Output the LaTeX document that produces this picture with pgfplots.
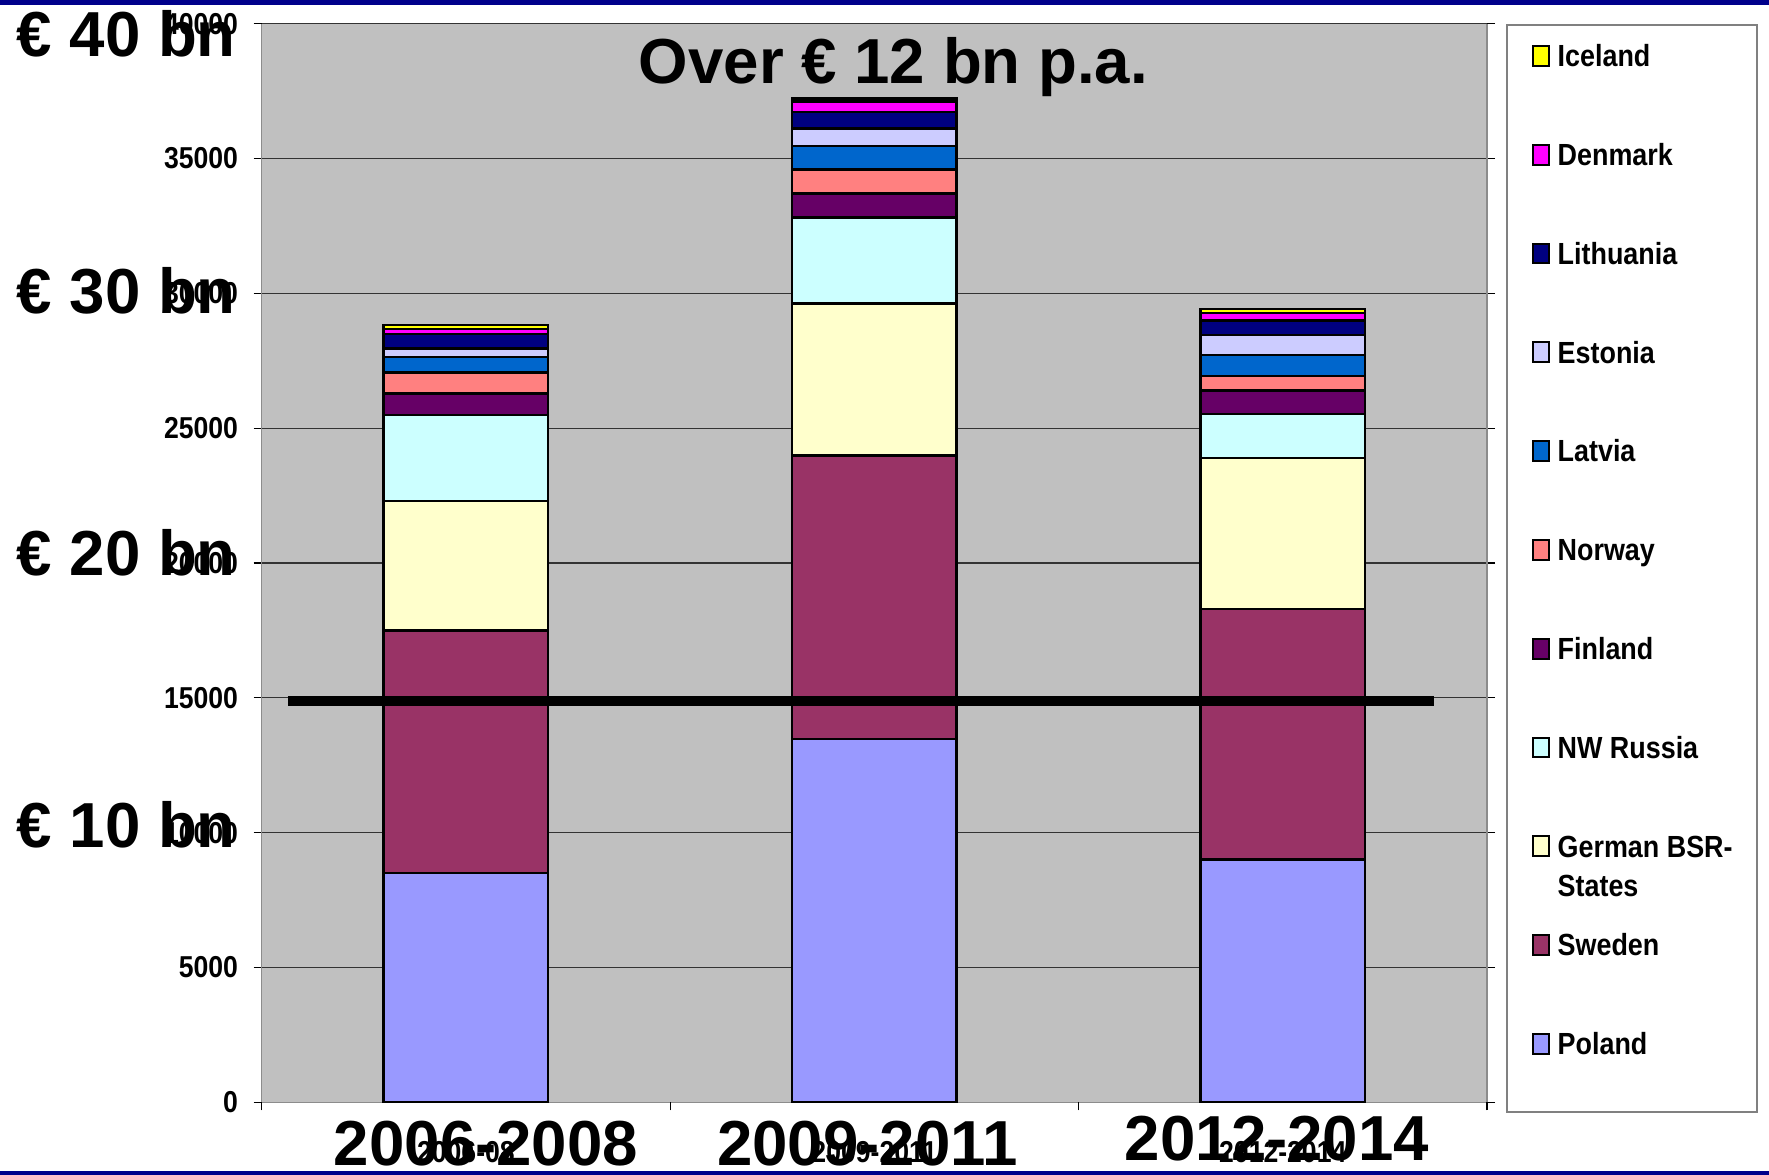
\documentclass[border=0pt]{standalone}
\usepackage{fontspec}
\setmainfont{Liberation Sans}
\newfontfamily\narrowbold{Liberation Sans}[FakeStretch=0.88, UprightFont={* Bold}]
\usepackage{pgfplots}
\pgfplotsset{compat=1.18}
\definecolor{bgray}{HTML}{C0C0C0}
\definecolor{cpoland}{HTML}{9999FF}
\definecolor{csweden}{HTML}{993366}
\definecolor{cgerman}{HTML}{FFFFCC}
\definecolor{cnwrussia}{HTML}{CCFFFF}
\definecolor{cfinland}{HTML}{660066}
\definecolor{cnorway}{HTML}{FF8080}
\definecolor{clatvia}{HTML}{0066CC}
\definecolor{cestonia}{HTML}{CCCCFF}
\definecolor{clithuania}{HTML}{000080}
\definecolor{cdenmark}{HTML}{FF00FF}
\definecolor{ciceland}{HTML}{FFFF00}
\definecolor{navyband}{HTML}{00008B}
\newcommand{\tickfont}{\fontsize{8.6}{10}\narrowbold}
\newcommand{\legfont}{\fontsize{8.7}{10.3}\narrowbold}
\newcommand{\bigfont}{\fontsize{18.1}{21}\selectfont\bfseries}
\begin{document}
\begin{tikzpicture}
\useasboundingbox (0,0) rectangle (176.9mm,117.5mm);
\fill[white] (0,0) rectangle (176.9mm,117.5mm);
\fill[navyband] (0,117.0mm) rectangle (176.9mm,117.5mm);
\fill[navyband] (0,0) rectangle (176.9mm,0.35mm);
\draw[draw=gray, line width=0.2mm, fill=white] (150.7mm,6.3mm) rectangle (175.7mm,115.0mm);
\begin{axis}[
  at={(26.17mm,7.27mm)}, anchor=south west,
  scale only axis, width=122.53mm, height=107.86mm,
  ybar stacked, bar width=0.403,
  xmin=-0.5, xmax=2.5, ymin=0, ymax=40000,
  xtick={0,1,2}, xticklabels={2006-08,2009-2011,2012-2014},
  xtick style={draw=none},
  extra x ticks={-0.5,0.5,1.5,2.5}, extra x tick labels={},
  extra x tick style={grid=none, xtick style={draw=black, line width=0.35pt}},
  ytick={0,5000,...,40000},
  scaled y ticks=false,
  ytick style={draw=black, line width=0.35pt},
  tick align=outside, major tick length=0.8mm,
  ymajorgrids, grid style={black!80, line width=0.3pt},
  axis background/.style={fill=bgray},
  axis line style={draw=gray!90, line width=0.4pt},
  axis x line*=bottom,
  /pgf/number format/assume math mode=true,
  /pgf/number format/1000 sep={},
  ticklabel style={font=\tickfont},
  yticklabel style={anchor=east, inner sep=0pt, xshift=-1.5mm},
  xticklabel style={anchor=base, inner sep=0pt, yshift=-5.2mm},
  every axis plot/.append style={draw=black, line width=0.25mm},
  reverse legend,
  legend cell align=left,
  legend style={at={(axis description cs:1.0359,0.9809)}, anchor=north west,
    draw=none, fill=none, inner sep=0pt, row sep=7.71mm, column sep=0.8mm,
    font=\legfont,
    nodes={inner sep=0pt, anchor=base west, text height=2.17mm, text depth=0pt}},
  legend image code/.code={\draw[#1, line width=0.2mm, draw=black] (0.1mm,0.1mm) rectangle (1.7mm,2.07mm);},
]
\addplot[fill=cpoland] coordinates {(0,8500) (1,13470) (2,9000)};
\addlegendentry{Poland}
\addplot[fill=csweden] coordinates {(0,9000) (1,10510) (2,9290)};
\addlegendentry{Sweden}
\addplot[fill=cgerman] coordinates {(0,4800) (1,5640) (2,5600)};
\addlegendentry{\smash{\begin{tabular}[t]{@{}l@{}}German BSR-\\[0.3mm]States\end{tabular}}}
\addplot[fill=cnwrussia] coordinates {(0,3190) (1,3200) (2,1640)};
\addlegendentry{NW Russia}
\addplot[fill=cfinland] coordinates {(0,790) (1,890) (2,860)};
\addlegendentry{Finland}
\addplot[fill=cnorway] coordinates {(0,790) (1,890) (2,550)};
\addlegendentry{Norway}
\addplot[fill=clatvia] coordinates {(0,560) (1,860) (2,770)};
\addlegendentry{Latvia}
\addplot[fill=cestonia] coordinates {(0,330) (1,650) (2,750)};
\addlegendentry{Estonia}
\addplot[fill=clithuania] coordinates {(0,530) (1,620) (2,530)};
\addlegendentry{Lithuania}
\addplot[fill=cdenmark] coordinates {(0,190) (1,390) (2,290)};
\addlegendentry{Denmark}
\addplot[fill=ciceland] coordinates {(0,150) (1,110) (2,140)};
\addlegendentry{Iceland}
\coordinate (lineL) at (axis cs:-0.436,14880);
\coordinate (lineR) at (axis cs:2.37,14880);
\end{axis}
\draw[black, line width=1.05mm] (lineL) -- (lineR);
\node[anchor=base, inner sep=0pt, font=\bigfont] at (89.35mm,109.15mm) {Over € 12 bn p.a.};
\node[anchor=base west, inner sep=0pt, font=\bigfont] at (1.6mm,111.86mm) {€ 40 bn};
\node[anchor=base west, inner sep=0pt, font=\bigfont] at (1.6mm,86.10mm) {€ 30 bn};
\node[anchor=base west, inner sep=0pt, font=\bigfont] at (1.6mm,59.96mm) {€ 20 bn};
\node[anchor=base west, inner sep=0pt, font=\bigfont] at (1.6mm,32.71mm) {€ 10 bn};
\node[anchor=base, inner sep=0pt, font=\bigfont] at (48.6mm,0.9mm) {2006-2008};
\node[anchor=base, inner sep=0pt, font=\bigfont] at (86.76mm,0.9mm) {2009-2011};
\node[anchor=base, inner sep=0pt, font=\bigfont] at (127.7mm,1.4mm) {2012-2014};
\end{tikzpicture}
\end{document}
